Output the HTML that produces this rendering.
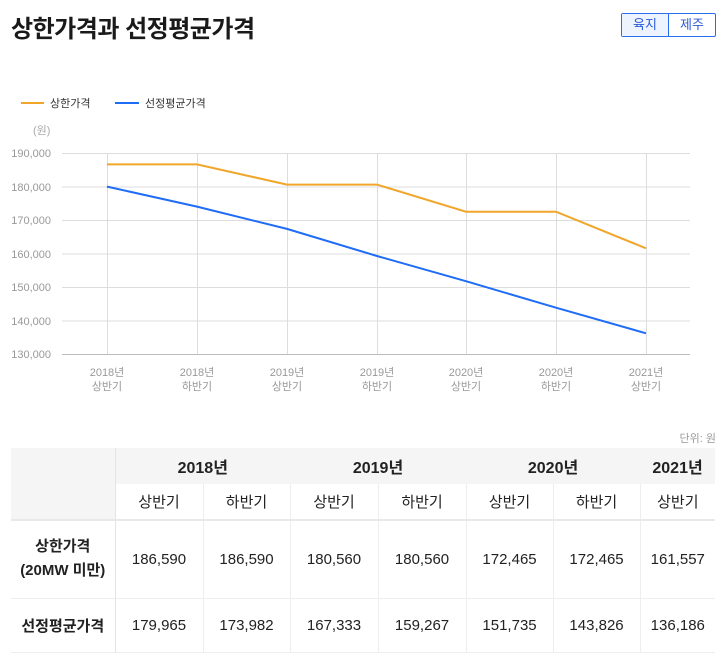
<!DOCTYPE html>
<html><head><meta charset="utf-8"><style>
body{margin:0;width:726px;height:665px;background:#fff;font-family:"Liberation Sans","Noto Sans CJK KR",sans-serif;overflow:hidden;position:relative}
.t{position:absolute;white-space:nowrap}
table{position:absolute;left:11px;top:448px;width:704px;border-collapse:collapse;table-layout:fixed;color:#222}
td{text-align:center;padding:0;font-size:15px;border-left:1px solid #eee}
</style></head><body>
<div class="t" style="left:11px;top:9px;font-size:24px;font-weight:bold;color:#1a1a1a;letter-spacing:-0.5px">상한가격과 선정평균가격</div>
<div style="position:absolute;left:621px;top:13px;width:93px;height:22px;border:1px solid #2a6ef0;border-radius:2px;font-size:13px;display:flex">
<div style="width:46px;background:#eef4ff;color:#2a5ad8;text-align:center;line-height:22px;border-right:1px solid #2a6ef0">육지</div>
<div style="flex:1;color:#2a5ad8;text-align:center;line-height:22px">제주</div></div>
<svg width="726" height="420" style="position:absolute;left:0;top:0" font-family="Liberation Sans,Noto Sans CJK KR,sans-serif">
<line x1="21" y1="103" x2="44" y2="103" stroke="#f0a62a" stroke-width="2"/>
<text x="50" y="107" font-size="11" fill="#333">상한가격</text>
<line x1="115" y1="103" x2="139" y2="103" stroke="#1f6cf7" stroke-width="2"/>
<text x="145" y="107" font-size="11" fill="#333">선정평균가격</text>
<text x="33" y="134" font-size="11" fill="#aaa">(원)</text>
<g stroke="#ddd" stroke-width="1">
<line x1="62" y1="153.5" x2="690" y2="153.5"/><line x1="62" y1="187" x2="690" y2="187"/><line x1="62" y1="220.5" x2="690" y2="220.5"/><line x1="62" y1="254" x2="690" y2="254"/><line x1="62" y1="287.5" x2="690" y2="287.5"/><line x1="62" y1="321" x2="690" y2="321"/>
<line x1="107.5" y1="153" x2="107.5" y2="354"/><line x1="197.5" y1="153" x2="197.5" y2="354"/><line x1="287.5" y1="153" x2="287.5" y2="354"/><line x1="377.5" y1="153" x2="377.5" y2="354"/><line x1="466.5" y1="153" x2="466.5" y2="354"/><line x1="556.5" y1="153" x2="556.5" y2="354"/><line x1="646.5" y1="153" x2="646.5" y2="354"/>
</g>
<line x1="62" y1="354.5" x2="690" y2="354.5" stroke="#bbb"/>
<g font-size="11" fill="#999" text-anchor="end">
<text x="51" y="157">190,000</text><text x="51" y="191">180,000</text><text x="51" y="224">170,000</text><text x="51" y="258">160,000</text><text x="51" y="291">150,000</text><text x="51" y="325">140,000</text><text x="51" y="358">130,000</text></g>
<g font-size="11" fill="#999" text-anchor="middle">
<text x="107" y="376">2018년</text><text x="107" y="390">상반기</text>
<text x="197" y="376">2018년</text><text x="197" y="390">하반기</text>
<text x="287" y="376">2019년</text><text x="287" y="390">상반기</text>
<text x="377" y="376">2019년</text><text x="377" y="390">하반기</text>
<text x="466" y="376">2020년</text><text x="466" y="390">상반기</text>
<text x="556" y="376">2020년</text><text x="556" y="390">하반기</text>
<text x="646" y="376">2021년</text><text x="646" y="390">상반기</text></g>
<polyline fill="none" stroke="#f0a62a" stroke-width="2" points="107,164.4 197,164.4 287,184.6 377,184.6 466,211.7 556,211.7 646,248.3"/>
<polyline fill="none" stroke="#1f6cf7" stroke-width="2" points="107,186.6 197,206.6 287,228.9 377,256 466,281.2 556,307.7 646,333.3"/>
</svg>
<div class="t" style="right:10px;top:430px;font-size:11px;color:#999">단위: 원</div>
<table>
<colgroup><col style="width:104px"><col style="width:88px"><col style="width:87px"><col style="width:88px"><col style="width:88px"><col style="width:87px"><col style="width:87px"><col style="width:75px"></colgroup>
<tr style="height:36px;background:#f5f5f5;font-weight:bold"><td rowspan="2" style="border-left:none;border-right:1px solid #e4e4e4"></td><td colspan="2" style="font-size:16px;font-weight:bold;border-left:none">2018년</td><td colspan="2" style="font-size:16px;font-weight:bold;border-left:none">2019년</td><td colspan="2" style="font-size:16px;font-weight:bold;border-left:none">2020년</td><td style="font-size:16px;font-weight:bold;border-left:none">2021년</td></tr>
<tr style="height:36px;border-bottom:2px solid #e8e8e8"><td>상반기</td><td>하반기</td><td>상반기</td><td>하반기</td><td>상반기</td><td>하반기</td><td>상반기</td></tr>
<tr style="height:78px;border-bottom:1px solid #eee"><td style="font-weight:bold;line-height:24px;border-left:none;border-right:1px solid #e4e4e4">상한가격<br>(20MW 미만)</td><td>186,590</td><td>186,590</td><td>180,560</td><td>180,560</td><td>172,465</td><td>172,465</td><td>161,557</td></tr>
<tr style="height:54px;border-bottom:1px solid #eee"><td style="font-weight:bold;border-left:none;border-right:1px solid #e4e4e4">선정평균가격</td><td>179,965</td><td>173,982</td><td>167,333</td><td>159,267</td><td>151,735</td><td>143,826</td><td>136,186</td></tr>
</table>
</body></html>
